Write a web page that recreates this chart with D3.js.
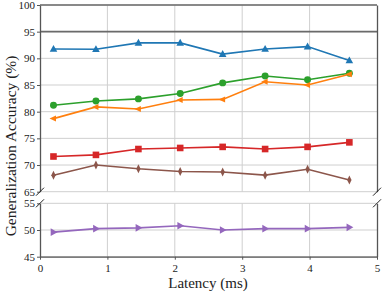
<!DOCTYPE html>
<html>
<head>
<meta charset="UTF-8" />
<script src="https://d3js.org/d3.v7.min.js"></script>
<style>
	body{margin:0; background:#fff;}
	svg text{font-family:"Liberation Serif", "DejaVu Serif", serif !important;}
	.grid line{stroke:#cfcfcf; stroke-width:1;}
	.axis path, .axis line{stroke:#555;}
</style>
</head>
<body>
<svg id="chart" width="382" height="293"></svg>
<script>
// latency positions (ms)
var latency = [0.2, 0.83, 1.46, 2.08, 2.71, 3.34, 3.97, 4.59]

// series values (%)
var blueVals   = [91.75, 91.7, 92.9, 92.9, 90.8, 91.75, 92.2, 89.6]
var greenVals  = [81.2, 82.0, 82.4, 83.4, 85.4, 86.7, 86.0, 87.2]
var orangeVals = [78.7, 80.9, 80.5, 82.2, 82.3, 85.6, 85.0, 87.0]
var redVals    = [71.6, 71.9, 73.0, 73.2, 73.4, 73.0, 73.4, 74.25]
var brownVals  = [68.1, 70.0, 69.3, 68.8, 68.7, 68.1, 69.2, 67.2]
var purpleVals = [49.6, 50.25, 50.4, 50.8, 50.0, 50.25, 50.25, 50.5]

var xTicks = [0, 1, 2, 3, 4, 5]
var upperTicks = [65, 70, 75, 80, 85, 90, 95, 100]
var lowerTicks = [45, 50, 55]

var svg = d3.select("#chart")
var left = 40, right = 377

var x = d3.scaleLinear().domain([0, 5]).range([left, right])
var yUp = d3.scaleLinear().domain([65, 100]).range([191.7, 5])
var yLo = d3.scaleLinear().domain([45, 55]).range([256.7, 203.3])

// grid
function grid(y, ticks, y0, y1){
	var g = svg.append("g").attr("class", "grid")
	g.selectAll(".h").data(ticks).enter().append("line")
		.attr("x1", left).attr("x2", right)
		.attr("y1", d=>y(d)).attr("y2", d=>y(d))
	g.selectAll(".v").data([1, 2, 3, 4]).enter().append("line")
		.attr("x1", d=>x(d)).attr("x2", d=>x(d))
		.attr("y1", y0).attr("y2", y1)
}
grid(yUp, upperTicks, yUp(100), yUp(65))
grid(yLo, lowerTicks, yLo(55), yLo(45))

// dark 95 line and top border
svg.selectAll(".ref").data([95, 100]).enter().append("line")
	.attr("x1", left).attr("x2", right)
	.attr("y1", d=>yUp(d)).attr("y2", d=>yUp(d))
	.attr("stroke", "#6a6a6a").attr("stroke-width", 1.6)

// axes
function yAxis(y, ticks){
	var g = svg.append("g").attr("class", "axis")
		.attr("transform", "translate(" + left + ",0)")
		.call(d3.axisLeft(y).tickValues(ticks).tickSize(3).tickSizeOuter(0))
	g.attr("font-family", null)
	g.select(".domain").attr("stroke-width", 1.3)
	g.selectAll("text").attr("font-size", 11).attr("fill", "#222").attr("dx", 1)
	var r = svg.append("g").attr("class", "axis")
		.attr("transform", "translate(" + right + ",0)")
		.call(d3.axisRight(y).tickValues([]).tickSizeOuter(0))
	r.select(".domain").attr("stroke-width", 1.3)
}
yAxis(yUp, upperTicks)
yAxis(yLo, lowerTicks)

var xg = svg.append("g").attr("class", "axis")
	.attr("transform", "translate(0," + yLo(45) + ")")
	.call(d3.axisBottom(x).tickValues(xTicks).tickFormat(d3.format("d")).tickSize(3).tickSizeOuter(0))
xg.attr("font-family", null)
xg.select(".domain").attr("stroke-width", 1.3)
xg.selectAll("text").attr("font-size", 11).attr("fill", "#222").attr("dy", "0.85em")

// break marks
var breaks = []
;[left, right].forEach(px=>{
	breaks.push([px, yUp(65)])
	breaks.push([px, yLo(55)])
})
svg.selectAll(".brk").data(breaks).enter().append("line")
	.attr("x1", d=>d[0] - 4).attr("y1", d=>d[1] + 4)
	.attr("x2", d=>d[0] + 4).attr("y2", d=>d[1] - 4)
	.attr("stroke", "#222").attr("stroke-width", 1)

// series
var series = [
	{vals: blueVals, y: yUp, color: "#1f77b4", sym: "triUp"},
	{vals: greenVals, y: yUp, color: "#2ca02c", sym: "circle"},
	{vals: orangeVals, y: yUp, color: "#ff7f0e", sym: "triLeft"},
	{vals: redVals, y: yUp, color: "#d62728", sym: "square"},
	{vals: brownVals, y: yUp, color: "#8c564b", sym: "thinDiamond"},
	{vals: purpleVals, y: yLo, color: "#9467bd", sym: "triRight"}
]

function marker(sym){
	if(sym == "triUp") return "M0,-4L3.8,2.8L-3.8,2.8Z"
	if(sym == "triLeft") return "M-4,0L2.5,-3L2.5,3Z"
	if(sym == "triRight") return "M4,0L-2.8,-3.8L-2.8,3.8Z"
	if(sym == "square") return "M-3.3,-3.3H3.3V3.3H-3.3Z"
	if(sym == "thinDiamond") return "M0,-4.5L2.2,0L0,4.5L-2.2,0Z"
	return d3.symbol(d3.symbolCircle, 38)()
}

series.forEach(s=>{
	var pts = latency.map((l, i)=>[x(l), s.y(s.vals[i])])
	svg.append("path")
		.attr("d", d3.line()(pts))
		.attr("fill", "none")
		.attr("stroke", s.color)
		.attr("stroke-width", 1.6)
	svg.append("g").selectAll("path").data(pts).enter().append("path")
		.attr("transform", d=>"translate(" + d[0] + "," + d[1] + ")")
		.attr("d", marker(s.sym))
		.attr("fill", s.color)
})

// titles
svg.append("text")
	.attr("x", 208).attr("y", 288)
	.attr("text-anchor", "middle").attr("font-size", 15).attr("fill", "#222")
	.text("Latency (ms)")
svg.append("text")
	.attr("transform", "translate(16,146) rotate(-90)")
	.attr("text-anchor", "middle").attr("font-size", 15.5).attr("fill", "#222")
	.text("Generalization Accuracy (%)")
</script>
</body>
</html>
